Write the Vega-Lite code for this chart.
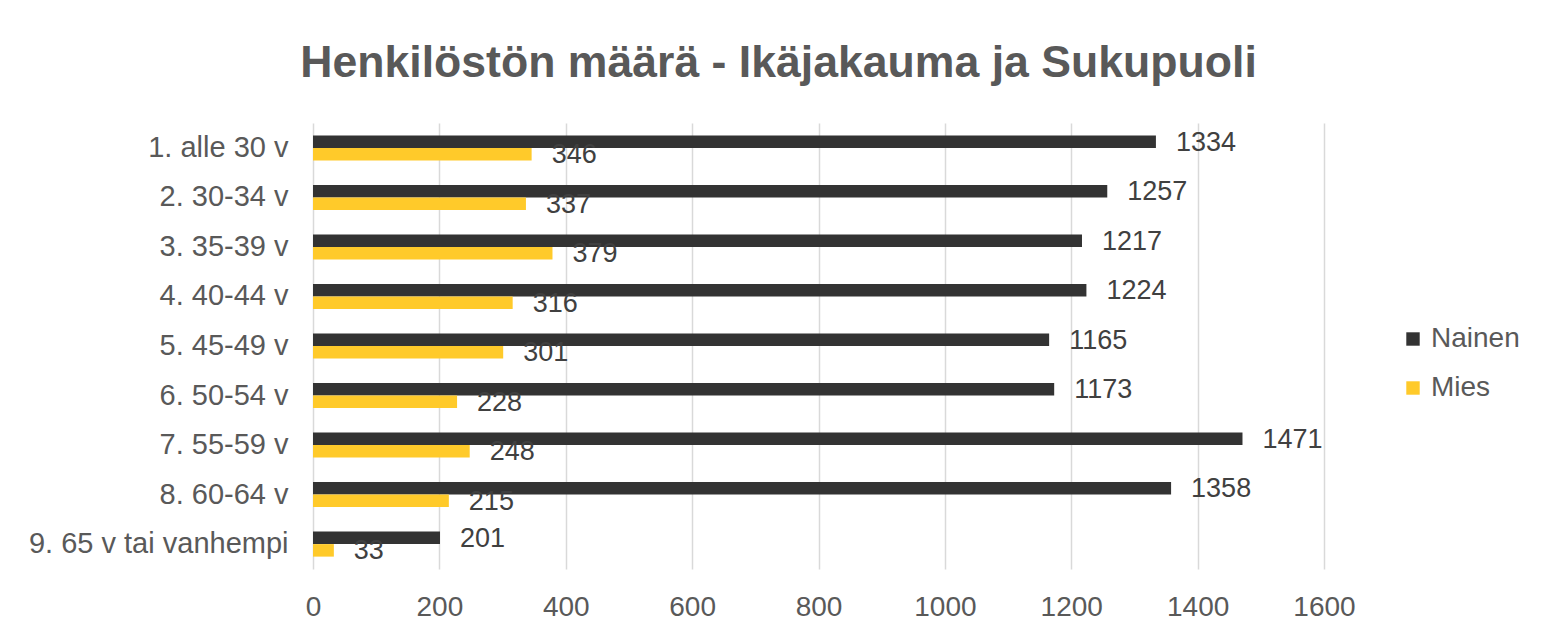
{
  "$schema": "https://vega.github.io/schema/vega-lite/v6.json",
  "autosize": {"type": "none"},
  "padding": {"left": 313, "top": 123, "right": 220, "bottom": 68},
  "width": 1011,
  "height": 446,
  "background": "white",
  "view": {"stroke": null},
  "title": {
    "text": "Henkilöstön määrä - Ikäjakauma ja Sukupuoli",
    "font": "Liberation Sans",
    "fontSize": 44.6,
    "fontWeight": "bold",
    "color": "#595959",
    "anchor": "middle",
    "frame": "group",
    "dx": -40,
    "baseline": "alphabetic",
    "offset": 1
  },
  "data": {
    "values": [
      {"ika": "1. alle 30 v", "sukupuoli": "Nainen", "maara": 1334},
      {"ika": "1. alle 30 v", "sukupuoli": "Mies", "maara": 346},
      {"ika": "2. 30-34 v", "sukupuoli": "Nainen", "maara": 1257},
      {"ika": "2. 30-34 v", "sukupuoli": "Mies", "maara": 337},
      {"ika": "3. 35-39 v", "sukupuoli": "Nainen", "maara": 1217},
      {"ika": "3. 35-39 v", "sukupuoli": "Mies", "maara": 379},
      {"ika": "4. 40-44 v", "sukupuoli": "Nainen", "maara": 1224},
      {"ika": "4. 40-44 v", "sukupuoli": "Mies", "maara": 316},
      {"ika": "5. 45-49 v", "sukupuoli": "Nainen", "maara": 1165},
      {"ika": "5. 45-49 v", "sukupuoli": "Mies", "maara": 301},
      {"ika": "6. 50-54 v", "sukupuoli": "Nainen", "maara": 1173},
      {"ika": "6. 50-54 v", "sukupuoli": "Mies", "maara": 228},
      {"ika": "7. 55-59 v", "sukupuoli": "Nainen", "maara": 1471},
      {"ika": "7. 55-59 v", "sukupuoli": "Mies", "maara": 248},
      {"ika": "8. 60-64 v", "sukupuoli": "Nainen", "maara": 1358},
      {"ika": "8. 60-64 v", "sukupuoli": "Mies", "maara": 215},
      {"ika": "9. 65 v tai vanhempi", "sukupuoli": "Nainen", "maara": 201},
      {"ika": "9. 65 v tai vanhempi", "sukupuoli": "Mies", "maara": 33}
    ]
  },
  "encoding": {
    "y": {
      "field": "ika",
      "type": "nominal",
      "sort": null,
      "scale": {"paddingInner": 0.495, "paddingOuter": 0.25},
      "axis": {
        "title": null,
        "domain": false,
        "ticks": false,
        "labelFont": "Liberation Sans",
        "labelFontSize": 29,
        "labelColor": "#595959",
        "labelPadding": 25,
        "labelLimit": 500
      }
    },
    "yOffset": {
      "field": "sukupuoli",
      "type": "nominal",
      "sort": ["Nainen", "Mies"],
      "scale": {"domain": ["Nainen", "Mies"], "paddingInner": 0, "paddingOuter": 0}
    },
    "x": {
      "field": "maara",
      "type": "quantitative",
      "scale": {"domain": [0, 1600], "nice": false},
      "axis": {
        "title": null,
        "values": [0, 200, 400, 600, 800, 1000, 1200, 1400, 1600],
        "domain": false,
        "ticks": false,
        "grid": true,
        "gridColor": "#d9d9d9",
        "gridWidth": 1.5,
        "labelFont": "Liberation Sans",
        "labelFontSize": 28,
        "labelColor": "#595959",
        "labelPadding": 24,
        "labelFlush": false,
        "format": "d"
      }
    }
  },
  "layer": [
    {
      "mark": {"type": "bar"},
      "encoding": {
        "color": {
          "field": "sukupuoli",
          "type": "nominal",
          "scale": {"domain": ["Nainen", "Mies"], "range": ["#333333", "#ffca2a"]},
          "legend": {
            "title": null,
            "orient": "none",
            "legendX": 1086,
            "legendY": 202,
            "symbolType": "square",
            "symbolSize": 180,
            "symbolOpacity": 1,
            "symbolStrokeWidth": 0,
            "labelFont": "Liberation Sans",
            "labelFontSize": 28,
            "labelColor": "#595959",
            "labelOffset": 4,
            "rowPadding": 21
          }
        }
      }
    },
    {
      "mark": {
        "type": "text",
        "align": "left",
        "baseline": "middle",
        "dx": 20,
        "dy": 1,
        "font": "Liberation Sans",
        "fontSize": 27,
        "color": "#404040"
      },
      "encoding": {
        "text": {"field": "maara", "type": "quantitative"}
      }
    }
  ]
}
